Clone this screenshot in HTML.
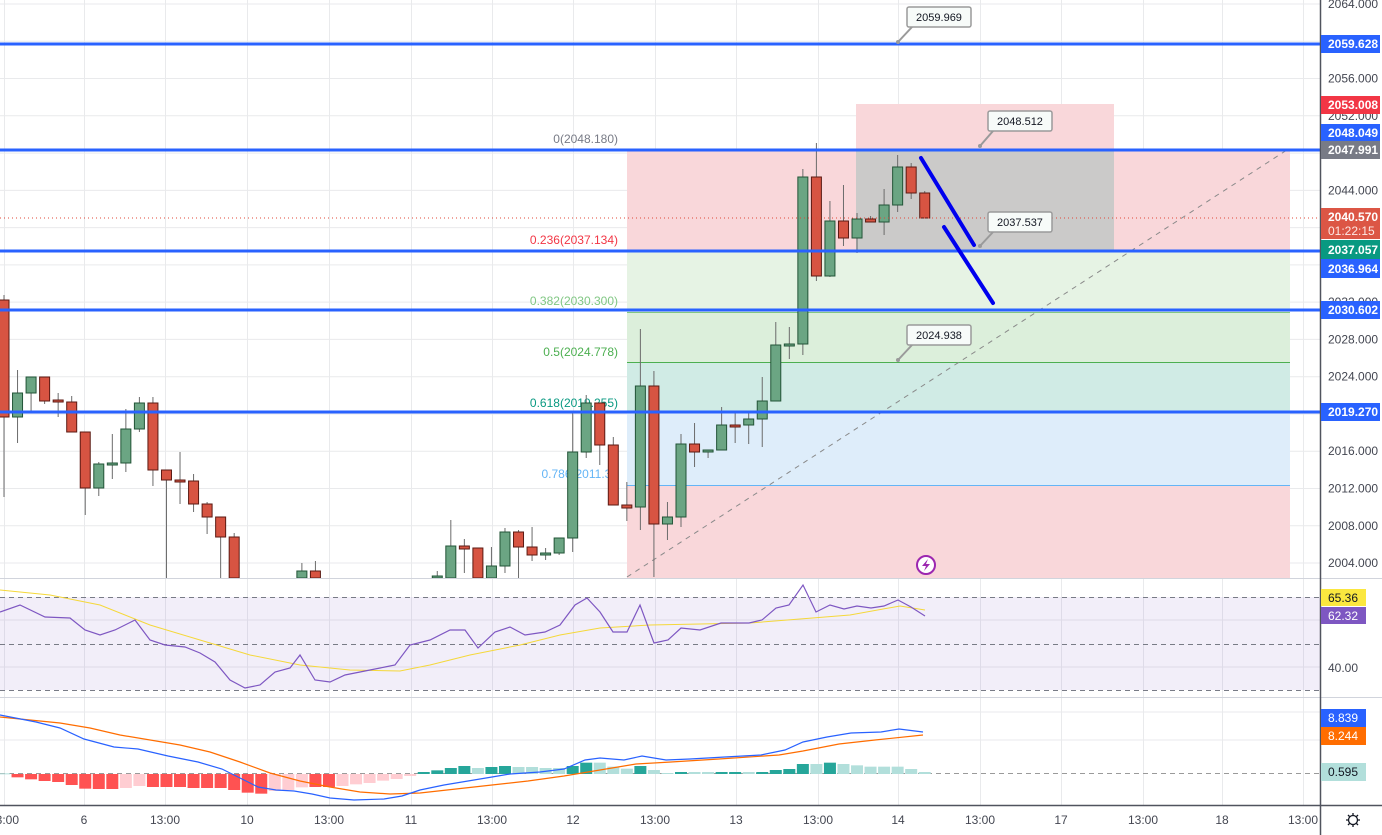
<!DOCTYPE html>
<html><head><meta charset="utf-8">
<style>
html,body{margin:0;padding:0;background:#fff;}
svg{display:block;font-family:"Liberation Sans",sans-serif;}
</style></head>
<body>
<svg id="s" width="1382" height="835" viewBox="0 0 1382 835" xmlns="http://www.w3.org/2000/svg">
<rect width="1382" height="835" fill="#fff"/>
<g id="grid" stroke="#e9eaec" stroke-width="1"></g>

<!-- fib box -->
<rect x="627" y="150" width="663" height="101" fill="#f9d7da"/>
<rect x="627" y="251" width="663" height="62" fill="#e6f3e4"/>
<rect x="627" y="313" width="663" height="49" fill="#dcefdb"/>
<rect x="627" y="362" width="663" height="51" fill="#d0ebe5"/>
<rect x="627" y="413" width="663" height="72" fill="#deedfa"/>
<rect x="627" y="485" width="663" height="93" fill="#f9d7da"/>
<line x1="627" y1="312.5" x2="1290" y2="312.5" stroke="#81c784" stroke-width="1"/>
<line x1="627" y1="362.5" x2="1290" y2="362.5" stroke="#4caf50" stroke-width="1"/>
<line x1="627" y1="485.5" x2="1290" y2="485.5" stroke="#64b5f6" stroke-width="1"/>
<!-- position box -->
<rect x="856" y="104" width="258" height="46" fill="#f9d7da"/>
<rect x="856" y="150" width="258" height="101" fill="#cbcac9"/>
<line x1="856" y1="150" x2="1290" y2="150" stroke="#787b86" stroke-width="2"/>

<g font-size="12" text-anchor="end">
<text x="618" y="143" fill="#787b86">0(2048.180)</text>
<text x="618" y="244" fill="#f23645">0.236(2037.134)</text>
<text x="618" y="305" fill="#81c784">0.382(2030.300)</text>
<text x="618" y="356" fill="#4caf50">0.5(2024.778)</text>
<text x="618" y="407" fill="#089981">0.618(2019.255)</text>
<text x="618" y="478" fill="#64b5f6">0.786(2011.39</text>
</g>

<!-- dashed trend -->
<line x1="627" y1="577" x2="1290" y2="148" stroke="#8a8a8a" stroke-width="1" stroke-dasharray="5,5"/>

<g id="candles"></g>

<!-- blue horizontals -->
<g stroke="#2962ff" stroke-width="3">
<line x1="0" y1="44" x2="1320" y2="44"/>
<line x1="0" y1="150" x2="1320" y2="150"/>
<line x1="0" y1="251" x2="1320" y2="251"/>
<line x1="0" y1="310" x2="1320" y2="310"/>
<line x1="0" y1="412" x2="1320" y2="412"/>
</g>
<line x1="0" y1="218" x2="1320" y2="218" stroke="#e0483a" stroke-width="1" stroke-dasharray="1,3"/>

<!-- drawn lines -->
<g stroke="#0000ee" stroke-width="4" stroke-linecap="round">
<line x1="921" y1="158" x2="974" y2="245"/>
<line x1="944" y1="227" x2="993" y2="303"/>
</g>

<!-- callouts -->
<g font-size="11" fill="#131722">
<path d="M898 42 L912 27" stroke="#9a9a9a" stroke-width="2" fill="none"/>
<rect x="907" y="7" width="64" height="20" rx="2" fill="#f7fbf9" stroke="#9a9a9a" stroke-width="1.5"/>
<text x="939" y="21" text-anchor="middle">2059.969</text>
<path d="M980 146 L993 131" stroke="#9a9a9a" stroke-width="2" fill="none"/>
<rect x="988" y="111" width="64" height="20" rx="2" fill="#f7fbf9" stroke="#9a9a9a" stroke-width="1.5"/>
<text x="1020" y="125" text-anchor="middle">2048.512</text>
<path d="M980 246 L993 232" stroke="#9a9a9a" stroke-width="2" fill="none"/>
<rect x="988" y="212" width="64" height="20" rx="2" fill="#f7fbf9" stroke="#9a9a9a" stroke-width="1.5"/>
<text x="1020" y="226" text-anchor="middle">2037.537</text>
<path d="M898 360 L912 345" stroke="#9a9a9a" stroke-width="2" fill="none"/>
<rect x="907" y="325" width="64" height="20" rx="2" fill="#f7fbf9" stroke="#9a9a9a" stroke-width="1.5"/>
<text x="939" y="339" text-anchor="middle">2024.938</text>
<circle cx="898" cy="42" r="2" fill="#9a9a9a"/><circle cx="980" cy="146" r="2" fill="#9a9a9a"/>
<circle cx="980" cy="246" r="2" fill="#9a9a9a"/><circle cx="898" cy="360" r="2" fill="#9a9a9a"/>
</g>
<circle cx="926" cy="565" r="9" fill="#fff" stroke="#9c27b0" stroke-width="2"/>
<path d="M928 559 L922 566 L926 566 L924 571 L930 564 L926 564 Z" fill="#9c27b0"/>

<!-- RSI pane -->
<rect x="0" y="597" width="1320" height="93" fill="#7e57c2" fill-opacity="0.1"/>
<g stroke="#787b86" stroke-width="1" stroke-dasharray="5,4">
<line x1="0" y1="597.5" x2="1320" y2="597.5"/>
<line x1="0" y1="644.5" x2="1320" y2="644.5"/>
<line x1="0" y1="690.5" x2="1320" y2="690.5"/>
<line x1="0" y1="773.5" x2="1320" y2="773.5" stroke="#9a9a9a"/>
</g>
<polyline fill="none" stroke="#f5d83a" stroke-width="1" points="0,590 50,595 100,605 150,625 200,640 250,655 300,665 350,670 400,671 430,665 470,655 520,645 560,635 600,628 650,625 700,624 750,623 800,619 850,615 900,606 925,610"/>
<polyline fill="none" stroke="#7e57c2" stroke-width="1.2" points="0,612 20,605 45,617 70,618 85,630 100,635 115,630 135,620 150,640 165,645 185,647 200,653 215,662 230,680 245,688 260,685 275,672 290,668 300,655 315,680 330,682 345,675 370,670 385,667 395,665 410,645 430,640 450,630 465,630 478,648 495,632 510,627 525,635 545,632 560,625 575,605 587,598 600,612 613,632 627,632 640,605 654,643 668,640 681,628 700,630 721,623 749,623 762,620 776,608 789,605 803,585 816,612 830,605 844,609 857,606 871,608 884,606 898,600 911,607 925,616"/>

<!-- MACD -->
<g id="hist"></g>
<polyline fill="none" stroke="#ff6d00" stroke-width="1.2" points="0,717 60,723 90,728 120,735 180,745 210,752 240,762 270,773 300,781 330,787 360,792 390,794 420,793 456,789 492,785 528,781 564,776 600,770 636,764 671,762 719,759 779,755 803,751 839,744 875,740 923,735"/>
<polyline fill="none" stroke="#2962ff" stroke-width="1.2" points="0,715 36,722 60,728 84,739 114,747 138,749 168,756 198,762 222,769 240,778 258,787 276,790 294,791 312,794 330,798 354,800 384,799 402,796 420,790 444,785 474,780 492,777 510,774 540,772 564,769 585,760 600,758 624,760 642,756 666,760 690,759 725,757 761,755 785,750 803,742 827,737 851,733 881,732 899,729 923,732"/>

<!-- separators -->
<g stroke="#d1d4dc" stroke-width="1">
<line x1="0" y1="578.5" x2="1382" y2="578.5"/>
<line x1="0" y1="697.5" x2="1382" y2="697.5"/>
</g>
<line x1="0" y1="805.5" x2="1382" y2="805.5" stroke="#50535e" stroke-width="1.5"/>
<line x1="1320.5" y1="0" x2="1320.5" y2="835" stroke="#50535e" stroke-width="1.5"/>

<!-- price axis -->
<g font-size="12" fill="#434651" id="paxis"></g>
<g font-size="12" font-weight="bold" fill="#fff">
<rect x="1321" y="35" width="59" height="18" fill="#2962ff"/><text x="1328" y="48">2059.628</text>
<rect x="1321" y="96" width="59" height="18" fill="#f23645"/><text x="1328" y="109">2053.008</text>
<rect x="1321" y="124" width="59" height="18" fill="#2962ff"/><text x="1328" y="137">2048.049</text>
<rect x="1321" y="141" width="59" height="18" fill="#787b86"/><text x="1328" y="154">2047.991</text>
<rect x="1321" y="208" width="59" height="31" fill="#dc5645"/><text x="1328" y="221">2040.570</text><text x="1328" y="235" font-weight="normal" fill="#fde8e5">01:22:15</text>
<rect x="1321" y="240" width="59" height="19" fill="#089981"/><text x="1328" y="254">2037.057</text>
<rect x="1321" y="259" width="59" height="19" fill="#2962ff"/><text x="1328" y="273">2036.964</text>
<rect x="1321" y="301" width="59" height="18" fill="#2962ff"/><text x="1328" y="314">2030.602</text>
<rect x="1321" y="403" width="59" height="18" fill="#2962ff"/><text x="1328" y="416">2019.270</text>
</g>
<g font-size="12">
<rect x="1321" y="589" width="45" height="17" fill="#fbe73f"/><text x="1328" y="602" fill="#131722">65.36</text>
<rect x="1321" y="607" width="45" height="17" fill="#7e57c2"/><text x="1328" y="620" fill="#fff">62.32</text>
<text x="1328" y="672" fill="#434651">40.00</text>
<rect x="1321" y="709" width="45" height="18" fill="#2962ff"/><text x="1328" y="722" fill="#fff">8.839</text>
<rect x="1321" y="727" width="45" height="18" fill="#ff6d00"/><text x="1328" y="740" fill="#fff">8.244</text>
<rect x="1321" y="763" width="45" height="18" fill="#b2dfdb"/><text x="1328" y="776" fill="#131722">0.595</text>
</g>

<!-- time axis -->
<g font-size="12" fill="#434651" text-anchor="middle">
<text x="4" y="824">13:00</text><text x="84" y="824">6</text><text x="165" y="824">13:00</text>
<text x="247" y="824">10</text><text x="329" y="824">13:00</text><text x="411" y="824">11</text>
<text x="492" y="824">13:00</text><text x="573" y="824">12</text><text x="655" y="824">13:00</text>
<text x="736" y="824">13</text><text x="818" y="824">13:00</text><text x="898" y="824">14</text>
<text x="980" y="824">13:00</text><text x="1061" y="824">17</text><text x="1143" y="824">13:00</text>
<text x="1222" y="824">18</text><text x="1303" y="824">13:00</text>
</g>
<g stroke="#131722" stroke-width="1.3" fill="none">
<circle cx="1353" cy="820" r="4.5"/>
<path d="M1353 813v2M1353 825v2M1346 820h2M1358 820h2M1348 815l1.5 1.5M1356.5 823.5l1.5 1.5M1348 825l1.5-1.5M1356.5 816.5l1.5-1.5"/>
</g>
</svg>
<script>
var NS="http://www.w3.org/2000/svg";
function el(t,a,p){var e=document.createElementNS(NS,t);for(var k in a)e.setAttribute(k,a[k]);p.appendChild(e);return e;}
var grid=document.getElementById("grid");
var vx=[4,84,165,247,329,411,492,573,655,736,818,898,980,1061,1143,1222,1303];
vx.forEach(function(x){el("line",{x1:x+.5,y1:0,x2:x+.5,y2:805},grid);});
var pax=document.getElementById("paxis");
for(var k=0;k<=15;k++){var y=4+k*37.27;el("line",{x1:0,y1:y,x2:1320,y2:y},grid);
 var t=el("text",{x:1328,y:y+4},pax);t.textContent=(2064-4*k).toFixed(3);}
[620,667].forEach(function(y){el("line",{x1:0,y1:y,x2:1320,y2:y},grid);});
[712,740].forEach(function(y){el("line",{x1:0,y1:y,x2:1320,y2:y},grid);});
// candles: [color(1 green,0 red), bodyTop, bodyBot, wickTop, wickBot]
var C={0:[0,300,417,295,497],1:[1,393,417,370,443],2:[1,377,393,377,413],3:[0,377,401,377,404],4:[0,400,402,393,417],5:[0,402,432,396,432],6:[0,432,488,432,515],7:[1,464,488,462,496],8:[1,463,464,434,479],9:[1,429,463,409,472],10:[1,403,429,397,432],11:[0,403,470,397,486],12:[0,470,480,470,578],13:[0,480,482,452,504],14:[0,481,504,474,512],15:[0,504,517,502,534],16:[0,517,537,517,578],17:[0,537,578,533,578],
22:[1,571,578,563,578],23:[0,571,578,561,578],32:[1,576,578,571,578],33:[1,546,578,520,578],34:[0,546,549,539,573],35:[0,548,578,548,578],36:[1,566,578,547,578],37:[1,532,566,528,573],38:[0,532,547,530,578],39:[0,547,555,527,561],40:[1,553,555,548,560],41:[1,538,553,538,555],42:[1,452,538,412,552],43:[1,403,452,395,458],44:[0,403,445,403,465],45:[0,445,505,437,505],46:[0,505,508,482,521],47:[1,386,507,329,530],48:[0,386,524,371,577],49:[1,517,524,502,540],50:[1,444,517,434,527],51:[0,444,452,423,467],52:[1,450,452,450,458],53:[1,425,450,407,450],54:[0,425,426,413,443],55:[1,419,425,411,444],56:[1,401,419,377,447],57:[1,345,401,322,401],58:[1,344,345,327,359],59:[1,177,344,169,355],60:[0,177,276,143,281],61:[1,221,276,201,277],62:[0,221,238,185,246],63:[1,219,238,213,253],64:[0,219,222,216,222],65:[1,205,222,189,235],66:[1,167,205,155,212],67:[0,167,193,163,199],68:[0,193,218,191,218]};
var cg=document.getElementById("candles");
for(var i in C){var c=C[i],x=4+13.54*i;
 el("line",{x1:x,y1:c[3],x2:x,y2:c[4],stroke:"#6b6b6b","stroke-width":1},cg);
 var h=Math.max(c[2]-c[1],2);
 el("rect",{x:x-5,y:c[1],width:10,height:h,fill:c[0]?"#6ba583":"#d75442",stroke:c[0]?"#225437":"#5b1a13","stroke-width":1},cg);}
// histogram
var H="T250 R262 R268 R273 R276 R285 R296 R297 R297 P294 P288 R291 R291 R291 R294 R294 R294 R300 R308 R311 P303 P300 P292 R291 R291 P288 P283 P279 P272 P267 P258 G246 G241 G234 G228 L234 G231 G228 L231 L231 L234 L234 G228 G218 L218 L230 L236 G228 L240 L249 G246 L246 L246 G246 G246 L246 G246 G240 G237 G222 L222 G218 L222 L226 L230 L230 L230 L237 L246".split(" ");
var col={T:"#b2dfdb",R:"#ff5252",P:"#ffcdd2",G:"#26a69a",L:"#b2dfdb"};
var hg=document.getElementById("hist");
H.forEach(function(s,i){var v=parseInt(s.slice(1)),y=690+v/3,z=774,x=4+13.54*i;
 var top=Math.min(y,z),hh=Math.max(Math.abs(y-z),1);
 el("rect",{x:x-6,y:top,width:12,height:hh,fill:col[s[0]]},hg);});
</script>
</body></html>
